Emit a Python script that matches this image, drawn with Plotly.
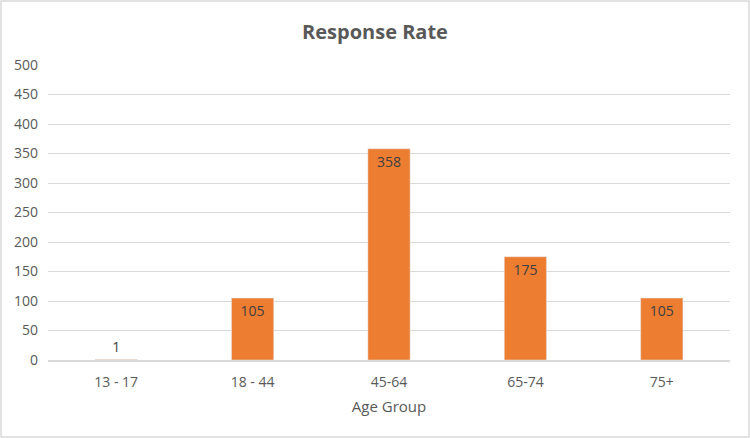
import plotly.graph_objects as go

grupos = ["13 - 17", "18 - 44", "45-64", "65-74", "75+"]
respuestas = [1, 105, 358, 175, 105]
y_ticks = [0, 50, 100, 150, 200, 250, 300, 350, 400, 450, 500]

gris = "#595959"

fig = go.Figure(
    data=go.Bar(
        x=grupos,
        y=respuestas,
        text=[str(v) for v in respuestas],
        textposition=["outside", "inside", "inside", "inside", "inside"],
        insidetextanchor="end",
        textfont=dict(color="#404040", size=14),
        outsidetextfont=dict(color="#404040", size=14),
        marker=dict(color="#ED7D31"),
        cliponaxis=False,
    )
)

# marco gris alrededor de todo el grafico
fig.add_shape(
    type="rect", xref="paper", yref="paper",
    x0=-0.0689, x1=1.0279, y0=-0.261, y1=1.217,
    line=dict(color="#D9D9D9", width=1.5),
)

fig.update_layout(
    width=750,
    height=438,
    margin=dict(l=48, r=20, t=65, b=78),
    paper_bgcolor="white",
    plot_bgcolor="white",
    font=dict(family="Open Sans", color=gris, size=14),
    title=dict(
        text="<b>Response Rate</b>",
        x=0.5, xanchor="center", y=0.927, yanchor="middle",
        font=dict(size=20, color=gris),
    ),
    bargap=0.69,
    showlegend=False,
    xaxis=dict(
        title=dict(text="Age Group", font=dict(size=15, color=gris), standoff=12),
        showline=True, linecolor="#D9D9D9", linewidth=1.5,
        ticks="", ticklabelstandoff=8,
        tickfont=dict(size=14, color=gris),
    ),
    yaxis=dict(
        range=[0, 500],
        tickvals=y_ticks,
        showgrid=True, gridcolor="#D9D9D9", gridwidth=1,
        zeroline=False, ticks="", ticklabelstandoff=9,
        tickfont=dict(size=14, color=gris),
    ),
)

fig.write_html(
    "out.html",
    config={"displayModeBar": False},
    post_script="document.body.style.margin='0';",
)
